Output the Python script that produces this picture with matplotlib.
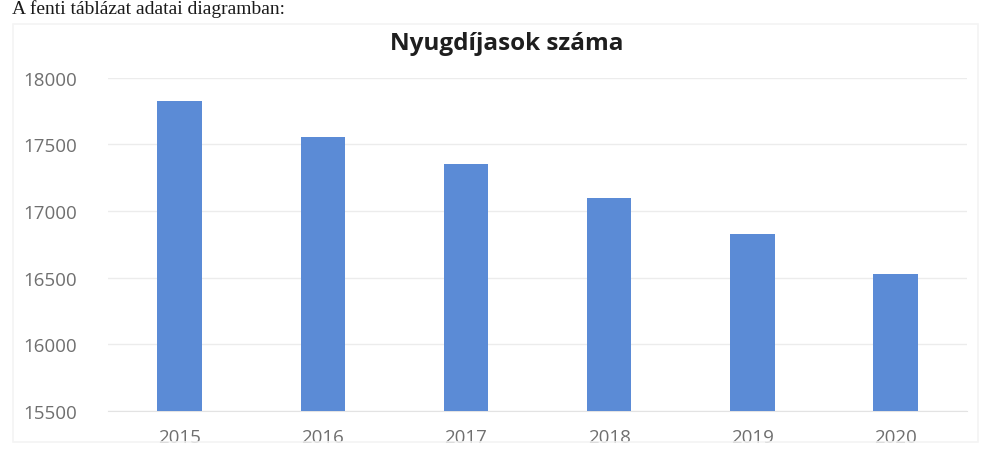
import matplotlib.pyplot as plt
from matplotlib.patches import Rectangle

years = ["2015", "2016", "2017", "2018", "2019", "2020"]
pensioners = [17830, 17560, 17350, 17100, 16830, 16530]
y_ticks = [15500, 16000, 16500, 17000, 17500, 18000]

bar_color = "#5b8bd6"
label_color = "#6f6f6f"

fig = plt.figure(figsize=(9.81, 4.52), dpi=100)
ax = fig.add_axes([0.110, 0.0885, 0.876, 0.737])

# faint chart-area frame as in the scanned page
fig.patches.append(Rectangle((0.013, 0.02), 0.984, 0.925, transform=fig.transFigure,
                             fill=False, edgecolor="#f4f4f4", linewidth=1.2))

x = list(range(len(years)))
ax.bar(x, [v - y_ticks[0] for v in pensioners], bottom=y_ticks[0],
       width=0.31, color=bar_color, zorder=3)

ax.set_xlim(-0.5, len(years) - 0.5)
ax.set_ylim(y_ticks[0], y_ticks[-1])
ax.set_yticks(y_ticks)
ax.set_yticklabels([str(t) for t in y_ticks])
ax.set_xticks(x)
ax.set_xticklabels(years)

ax.grid(axis="y", color="#ececec", linewidth=1.0, zorder=0)
for side in ["top", "right", "left"]:
    ax.spines[side].set_visible(False)
ax.spines["bottom"].set_color("#e3e3e3")
ax.tick_params(axis="both", length=0, colors=label_color, labelsize=13.5)
ax.tick_params(axis="y", pad=22)
ax.tick_params(axis="x", pad=12)
for lbl in ax.get_xticklabels() + ax.get_yticklabels():
    lbl.set_family("Open Sans")

fig.text(0.517, 0.903, "Nyugdíjasok száma", ha="center", va="center",
         fontsize=17.5, fontweight="bold", family="Open Sans", color="#1e1e1e")
fig.text(0.012, 0.999, "A fenti táblázat adatai diagramban:", ha="left", va="top",
         fontsize=14, family="Liberation Serif", color="#1a1a1a")

fig.savefig("out.png", dpi=100)
